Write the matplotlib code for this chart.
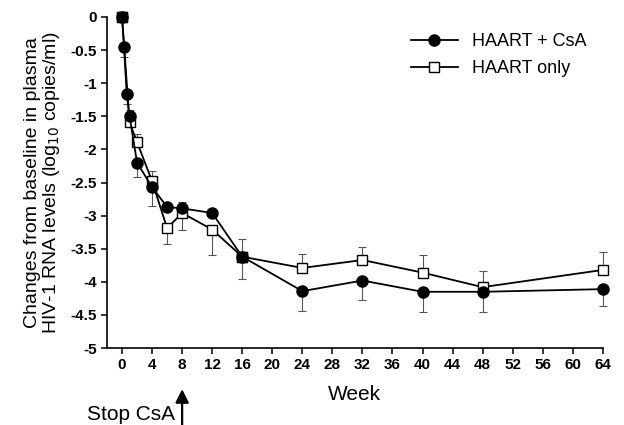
import matplotlib
matplotlib.use("Agg")
import matplotlib.pyplot as plt

plt.rcParams['font.family'] = ['Liberation Sans', 'DejaVu Sans']

# HAART + CsA (filled circles)
weeks_csa = [0, 0.27, 0.62, 1, 2, 4, 6, 8, 12, 16, 24, 32, 40, 48, 64]
vals_csa = [0, -0.46, -1.16, -1.50, -2.20, -2.57, -2.87, -2.89, -2.96, -3.62,
            -4.14, -3.98, -4.15, -4.15, -4.11]
err_lo_csa = [0, 0.14, 0.16, 0, 0.22, 0.28, 0, 0, 0, 0.33, 0.30, 0.30, 0.30, 0.30, 0.26]
err_hi_csa = [0, 0, 0, 0, 0, 0, 0, 0.10, 0, 0, 0, 0, 0, 0, 0]

# HAART only (open squares)
weeks_only = [0, 1, 2, 4, 6, 8, 12, 16, 24, 32, 40, 48, 64]
vals_only = [0, -1.59, -1.89, -2.48, -3.19, -2.96, -3.21, -3.62, -3.79, -3.67,
             -3.86, -4.08, -3.82]
err_lo_only = [0, 0, 0, 0, 0.24, 0.25, 0.39, 0, 0, 0, 0, 0, 0]
err_hi_only = [0, 0.19, 0.12, 0.16, 0, 0, 0, 0.26, 0.21, 0.19, 0.26, 0.25, 0.27]

# points where both series coincide (drawn as filled squares)
overlap_idx = [0, 7]

xticks = list(range(0, 65, 4))
yticks = [0, -0.5, -1, -1.5, -2, -2.5, -3, -3.5, -4, -4.5, -5]

fig = plt.figure(figsize=(6.24, 4.25), dpi=100)
ax = fig.add_axes([0.1715, 0.181, 0.7945, 0.779])

for w, v, lo, hi in [(weeks_csa, vals_csa, err_lo_csa, err_hi_csa),
                     (weeks_only, vals_only, err_lo_only, err_hi_only)]:
    eb = ax.errorbar(w, v, yerr=[lo, hi], fmt='none', ecolor='#555555',
                     elinewidth=0.8, capsize=3, capthick=0.8, zorder=1)
    for art in eb.lines[1] + eb.lines[2]:
        art.set_clip_on(False)

ax.plot(weeks_csa, vals_csa, color='black', lw=1.3, marker='o', ms=8,
        mfc='black', mec='black', label='HAART + CsA', zorder=3, clip_on=False)
ax.plot(weeks_only, vals_only, color='black', lw=1.3, marker='s', ms=7.5,
        mfc='white', mec='black', mew=1.0, label='HAART only', zorder=2, clip_on=False)
ax.plot([weeks_only[i] for i in overlap_idx], [vals_only[i] for i in overlap_idx],
        ls='none', marker='s', ms=7.5, mfc='black', mec='black', zorder=4, clip_on=False)

ax.set_xlim(-2, 64)
ax.set_ylim(-5, 0)
ax.set_xticks(xticks)
ax.set_yticks(yticks)
ax.set_yticklabels(['0', '-0.5', '-1', '-1.5', '-2', '-2.5', '-3', '-3.5', '-4', '-4.5', '-5'])
ax.spines['top'].set_visible(False)
ax.spines['right'].set_visible(False)
ax.spines['left'].set_linewidth(1.2)
ax.spines['bottom'].set_linewidth(1.2)
ax.tick_params(direction='out', length=4, width=1.1, labelsize=11)
for lab in ax.get_xticklabels() + ax.get_yticklabels():
    lab.set_fontweight('bold')

ax.set_xlabel('Week', fontsize=15, labelpad=9)
ax.set_ylabel('Changes from baseline in plasma\nHIV-1 RNA levels (log$_{10}$ copies/ml)',
              fontsize=14, labelpad=6, linespacing=1.0)

ax.legend(loc='upper right', bbox_to_anchor=(1.0, 1.0), frameon=False, fontsize=13,
          handlelength=2.6, borderaxespad=0.5, labelspacing=0.55)

ax.annotate('', xy=(8, -5.62), xytext=(8, -6.3), xycoords='data',
            arrowprops=dict(arrowstyle='-|>', color='black', lw=1.6, mutation_scale=20,
                            shrinkA=0, shrinkB=0),
            annotation_clip=False)
ax.text(7.0, -6.0, 'Stop CsA', ha='right', va='center', fontsize=15,
        transform=ax.transData, clip_on=False)

fig.savefig('out.png', dpi=100)
